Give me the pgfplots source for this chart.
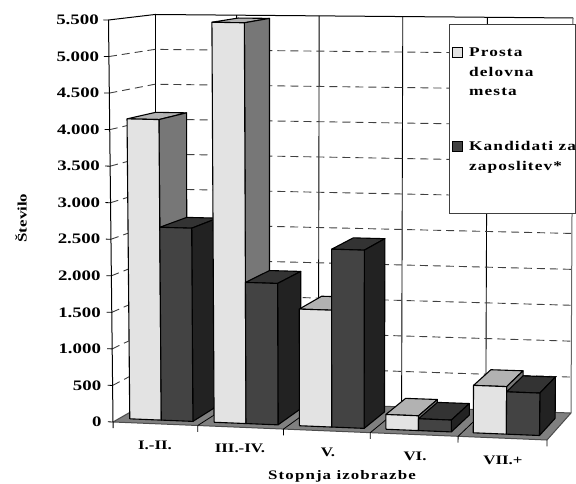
\documentclass[border=0pt]{standalone}
\usepackage{fontspec}
\usepackage{pgfplots}
\pgfplotsset{compat=1.18}
\setmainfont{Liberation Serif}[FakeStretch=1.3]
\newfontfamily\spaced{Liberation Serif}[FakeStretch=1.3,LetterSpace=8.5]

\definecolor{lightfront}{HTML}{E3E3E3}
\definecolor{lighttop}{HTML}{B2B2B2}
\definecolor{lightside}{HTML}{777777}
\definecolor{darkfront}{HTML}{434343}
\definecolor{darktop}{HTML}{333333}
\definecolor{darkside}{HTML}{222222}
\definecolor{floorgray}{HTML}{808080}

% one polygon or polyline, rows are: category position, depth, value
\newcommand{\face}[2]{%
  \addplot[forget plot,no marks,line join=round,#1] table[row sep=\\,
    x expr={projx(\thisrow{u},\thisrow{d},\thisrow{v})-109},
    y expr={(422-projy(\thisrow{u},\thisrow{d},\thisrow{v}))*13.682}]
    {u d v\\ #2};}
% u0, u1, value, colours of front, top, side
\newcommand{\prism}[6]{%
  \face{fill=#5,draw=black,line width=1.1pt}{#1 0.15 #3\\ #2 0.15 #3\\ #2 0.79 #3\\ #1 0.79 #3\\ #1 0.15 #3\\}
  \face{fill=#6,draw=black,line width=1.1pt}{#2 0.15 0\\ #2 0.79 0\\ #2 0.79 #3\\ #2 0.15 #3\\ #2 0.15 0\\}
  \face{fill=#4,draw=black,line width=1.1pt}{#1 0.15 0\\ #2 0.15 0\\ #2 0.15 #3\\ #1 0.15 #3\\ #1 0.15 0\\}}
\newcommand{\barpair}[5]{%
  \prism{#1}{#2}{#4}{lightfront}{lighttop}{lightside}
  \prism{#2}{#3}{#5}{darkfront}{darktop}{darkside}}
\newcommand{\gridrow}[1]{%
  \face{draw=black!75,line width=0.9pt,dash pattern=on 8pt off 5pt}{0 0 #1\\ 0 1 #1\\ 5 1 #1\\}
  \face{draw=black,line width=0.8pt}{-0.06 0 #1\\ 0 0 #1\\}}
\newcommand{\legendtext}[1]{\parbox[b]{105pt}{\leftskip=4pt\rightskip=-12pt #1}}

\begin{document}
\begin{tikzpicture}
\path[use as bounding box] (0,0) rectangle (576pt,483pt);
\begin{axis}[
    at={(0,0)}, anchor=south west,
    scale only axis, width=576pt, height=483pt,
    xmin=-109, xmax=467, ymin=-834.6, ymax=5773.8,
    clip=false,
    axis x line=none, axis y line=middle,
    axis line style={draw=none},
    major tick length=0pt,
    ytick={0,500,...,5500},
    /pgf/number format/assume math mode=true,
    /pgf/number format/1000 sep={.},
    yticklabel style={font=\fontsize{14.5}{16}\selectfont\bfseries, anchor=east, xshift=-4pt},
    yticklabel={\pgfmathprintnumber{\tick}\kern\ticknum\dimexpr0.25pt\relax},
    declare function={
      warp(\u)=\u/5+0.03*(\u/5)*(\u/5-1);
      lerp(\a,\b,\t)=\a+(\b-\a)*\t;
      projx(\u,\d,\v)=lerp(lerp(lerp(113,547,warp(\u)),lerp(155,571,warp(\u)),\d),
                           lerp(lerp(108.5,551,warp(\u)),lerp(155,573,warp(\u)),\d),\v/5500);
      projy(\u,\d,\v)=lerp(lerp(lerp(422,440,warp(\u)),lerp(398,413,warp(\u)),\d),
                           lerp(lerp(20,28,warp(\u)),lerp(14.5,18,warp(\u)),\d),\v/5500);
    },
    legend style={at={(axis cs:339.7,5441)}, anchor=north west, draw=black!75, line width=0.9pt,
      fill=white, inner xsep=3pt, inner ysep=0pt, row sep=34pt,
      font=\fontsize{13.3}{19.5}\selectfont\spaced\bfseries,
      cells={anchor=base west}},
    legend image code/.code={\draw[#1,line width=1pt] (0pt,-1pt) rectangle (10pt,9pt);},
]
% floor
\face{fill=floorgray,draw=black!70,line width=1pt}{0 0 0\\ 5 0 0\\ 5 1 0\\ 0 1 0\\ 0 0 0\\}
\face{draw=black,line width=0.8pt}{1 0 0\\ 1 1 0\\}
\face{draw=black,line width=0.8pt}{2 0 0\\ 2 1 0\\}
\face{draw=black,line width=0.8pt}{3 0 0\\ 3 1 0\\}
\face{draw=black,line width=0.8pt}{4 0 0\\ 4 1 0\\}
% walls
\face{draw=black,line width=0.9pt}{1 1 0\\ 1 1 5500\\}
\face{draw=black,line width=0.9pt}{2 1 0\\ 2 1 5500\\}
\face{draw=black,line width=0.9pt}{3 1 0\\ 3 1 5500\\}
\face{draw=black,line width=0.9pt}{4 1 0\\ 4 1 5500\\}
\face{draw=black!60,line width=1pt}{5 1 0\\ 5 1 5500\\}
\face{draw=black,line width=1pt}{0 1 0\\ 0 1 5500\\}
\face{draw=black,line width=1pt}{0 0 5500\\ 0 1 5500\\ 5 1 5500\\}
\gridrow{500}\gridrow{1000}\gridrow{1500}\gridrow{2000}\gridrow{2500}
\gridrow{3000}\gridrow{3500}\gridrow{4000}\gridrow{4500}\gridrow{5000}
\face{draw=black,line width=0.8pt}{-0.06 0 0\\ 0 0 0\\}
\face{draw=black,line width=0.8pt}{-0.06 0 5500\\ 0 0 5500\\}
\face{draw=black,line width=1pt}{0 0 -85\\ 0 0 5500\\}
\face{draw=black,line width=0.8pt}{1 0 0\\ 1 0 -85\\}
\face{draw=black,line width=0.8pt}{2 0 0\\ 2 0 -85\\}
\face{draw=black,line width=0.8pt}{3 0 0\\ 3 0 -85\\}
\face{draw=black,line width=0.8pt}{4 0 0\\ 4 0 -85\\}
\face{draw=black,line width=0.8pt}{5 0 0\\ 5 0 -85\\}
% bars
\barpair{0.125}{0.5}{0.875}{4130}{2650}
\barpair{1.125}{1.5}{1.875}{5480}{1930}
\barpair{2.125}{2.5}{2.875}{1590}{2420}
\barpair{3.125}{3.5}{3.875}{200}{160}
\barpair{4.125}{4.5}{4.875}{640}{570}
% legend
\addlegendimage{fill=lightfront,draw=black,yshift=39pt}
\addlegendentry{\legendtext{\rule{0pt}{30pt}Prosta\\delovna\\mesta}}
\addlegendimage{fill=darkfront,draw=black,yshift=19.5pt}
\addlegendentry{\legendtext{\rule{0pt}{15.5pt}Kandidati za\\zaposlitev*}}
\addlegendimage{empty legend}
\addlegendentry{\rule{0pt}{0pt}}
% category and axis names
\begin{scope}[font=\fontsize{13}{15}\selectfont\bfseries]
\node at (axis cs:46,-315) {I.-II.};
\node at (axis cs:131,-356) {III.-IV.};
\node at (axis cs:219,-420) {V.};
\node at (axis cs:306,-465) {VI.};
\node at (axis cs:394,-520) {VII.+};
\node[rotate=90] at (axis cs:-88,2790) {Število};
\node[font=\fontsize{13}{15}\selectfont\spaced\bfseries] at (axis cs:233,-739) {Stopnja izobrazbe};
\end{scope}
\end{axis}
\end{tikzpicture}
\end{document}
